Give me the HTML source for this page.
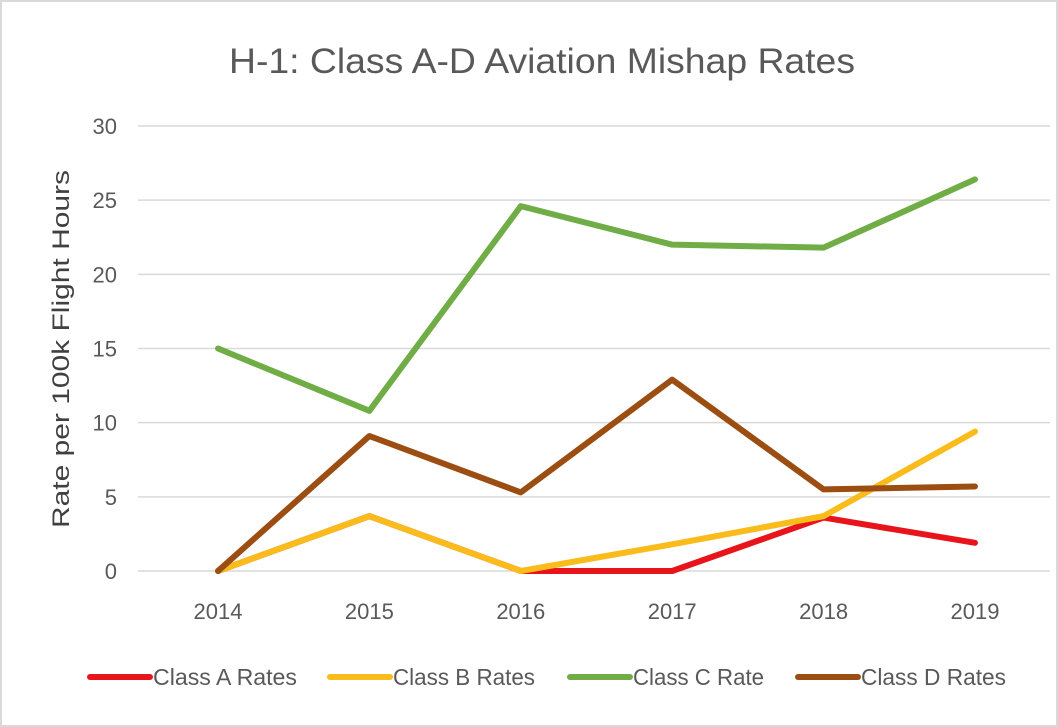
<!DOCTYPE html>
<html><head><meta charset="utf-8"><style>
html,body{margin:0;padding:0;background:#fff;}
svg{display:block;font-family:"Liberation Sans",sans-serif;}
</style></head><body>
<svg id="chart" width="1058" height="727" viewBox="0 0 1058 727">
<rect x="1" y="1" width="1056" height="725" fill="#fff" stroke="#d9d9d9" stroke-width="2"/>
<text x="229" y="73" textLength="626" lengthAdjust="spacingAndGlyphs" font-size="35" fill="#595959">H-1: Class A-D Aviation Mishap Rates</text>
<text transform="translate(69,349) rotate(-90)" text-anchor="middle" textLength="358" lengthAdjust="spacingAndGlyphs" font-size="24" fill="#404040">Rate per 100k Flight Hours</text>
<g id="grid"></g><g id="yt"></g><g id="xt"></g><g id="series"></g><g id="legend"></g>
</svg>
<script>
const years=["2014","2015","2016","2017","2018","2019"];
const yTicks=[0,5,10,15,20,25,30];
const classA=[0,3.7,0,0,3.6,1.9];
const classB=[0,3.7,0,1.8,3.7,9.4];
const classC=[15,10.8,24.6,22.0,21.8,26.4];
const classD=[0,9.1,5.3,12.9,5.5,5.7];
const names=["Class A Rates","Class B Rates","Class C Rate","Class D Rates"];
const colors=["#e8141b","#f9bc1b","#70ad47","#9c4d12"];
const NS="http://www.w3.org/2000/svg";
const x=i=>218+i*151.4, y=v=>571-v*14.833;
function mk(t,a,p){const e=document.createElementNS(NS,t);for(const k in a)e.setAttribute(k,a[k]);p.appendChild(e);return e;}
yTicks.forEach(v=>{
 const l=mk('line',{x1:138,x2:1050,y1:y(v),y2:y(v),stroke:'#d9d9d9','stroke-width':1.5},document.getElementById('grid'));
 
 
 const t=mk('text',{x:117,y:y(v)+8,'text-anchor':'end','font-size':22,fill:'#595959'},document.getElementById('yt'));
 t.textContent=v;
 
 
});
years.forEach((yr,i)=>{
 const t=mk('text',{x:x(i),y:619,'text-anchor':'middle','font-size':22,fill:'#595959'},document.getElementById('xt'));
 t.textContent=yr;
 
 
});
[classA,classB,classC,classD].forEach((s,k)=>{
 const p=mk('polyline',{points:s.map((v,i)=>x(i)+','+y(v)).join(' '),fill:'none',stroke:colors[k],'stroke-width':6,'stroke-linejoin':'round','stroke-linecap':'round'},document.getElementById('series'));
 
 
});
const lx=[90,330,570,798];
const lw=[144,142,131,145];
names.forEach((n,k)=>{
 const g=mk('g',{},document.getElementById('legend'));
 
 
 mk('line',{x1:lx[k],x2:lx[k]+60,y1:677,y2:677,stroke:colors[k],'stroke-width':6,'stroke-linecap':'round'},g);
 const t=mk('text',{x:lx[k]+63,y:685,'font-size':23,fill:'#595959',textLength:lw[k],lengthAdjust:'spacingAndGlyphs'},g);
 t.textContent=n;
});
</script>
</body></html>
